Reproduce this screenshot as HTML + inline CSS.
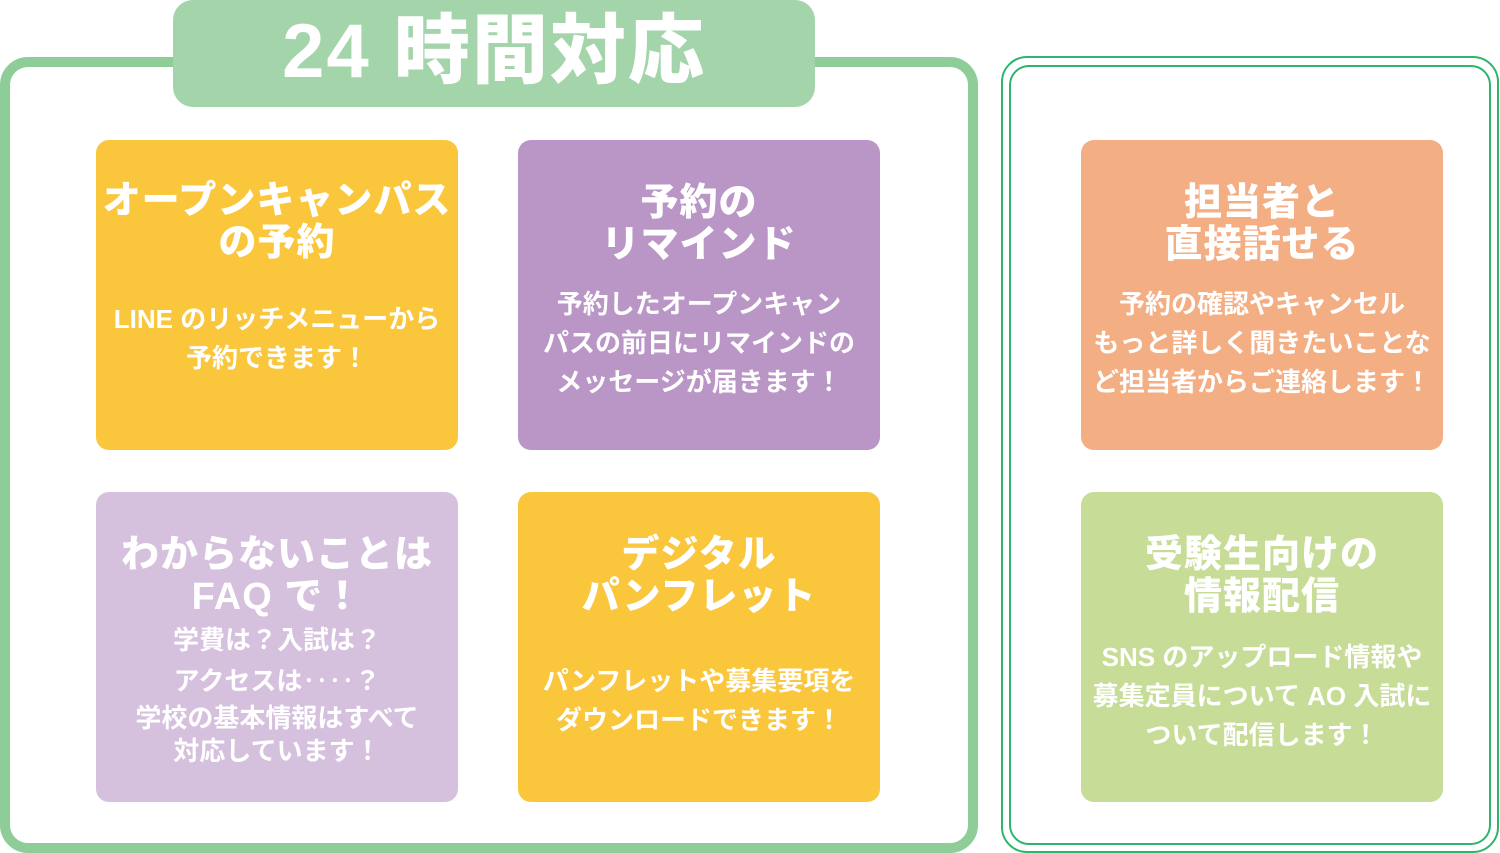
<!DOCTYPE html><html><head><meta charset="utf-8"><style>
body{margin:0;width:1500px;height:853px;background:#fff;position:relative;overflow:hidden;font-family:"Liberation Sans","Noto Sans CJK JP",sans-serif;}
.a{position:absolute;box-sizing:border-box}
.card{position:absolute;border-radius:13px;color:#fff;text-align:center;box-sizing:border-box;width:362px;height:310px}
.t{font-weight:900;font-size:38px;line-height:42px;letter-spacing:1px;white-space:nowrap}
.b{font-weight:700;font-size:26px;line-height:39px;white-space:nowrap}
</style></head><body>
<div class="a" style="left:0;top:57px;width:978px;height:796px;border:10px solid #8ecc98;border-radius:28px"></div>
<div class="a" style="left:173px;top:0;width:642px;height:107px;background:#a3d4aa;border-radius:20px;color:#fff;font-weight:900;font-size:76px;line-height:104px;text-align:center;letter-spacing:2px">24 時間対応</div>
<div class="a" style="left:1001px;top:56px;width:498px;height:797px;border:2.5px solid #2eb56b;border-radius:26px"></div>
<div class="a" style="left:1009px;top:65px;width:482px;height:780px;border:2.5px solid #2eb56b;border-radius:20px"></div>

<div class="card" style="left:96px;top:140px;background:#f9c63c;padding-top:40px"><div class="t">オープンキャンパス<br>の予約</div><div class="b" style="margin-top:36px">LINE のリッチメニューから<br>予約できます！</div></div>
<div class="card" style="left:518px;top:140px;background:#b996c6;padding-top:42px"><div class="t">予約の<br>リマインド</div><div class="b" style="margin-top:19px">予約したオープンキャン<br>パスの前日にリマインドの<br>メッセージが届きます！</div></div>
<div class="card" style="left:1081px;top:140px;background:#f4ae84;padding-top:42px"><div class="t">担当者と<br>直接話せる</div><div class="b" style="margin-top:19px">予約の確認やキャンセル<br>もっと詳しく聞きたいことな<br>ど担当者からご連絡します！</div></div>

<div class="card" style="left:96px;top:492px;background:#d5c0de;padding-top:42px"><div class="t">わからないことは<br>FAQ で！</div><div class="b" style="line-height:41px;margin-top:2px">学費は？入試は？<br>アクセスは‥‥？<br><span style="display:block;line-height:33px">学校の基本情報はすべて<br>対応しています！</span></div></div>
<div class="card" style="left:518px;top:492px;background:#f9c63c;padding-top:42px"><div class="t">デジタル<br>パンフレット</div><div class="b" style="margin-top:44px">パンフレットや募集要項を<br>ダウンロードできます！</div></div>
<div class="card" style="left:1081px;top:492px;background:#c7dd97;padding-top:42px"><div class="t">受験生向けの<br>情報配信</div><div class="b" style="margin-top:20px">SNS のアップロード情報や<br>募集定員について AO 入試に<br>ついて配信します！</div></div>
</body></html>
